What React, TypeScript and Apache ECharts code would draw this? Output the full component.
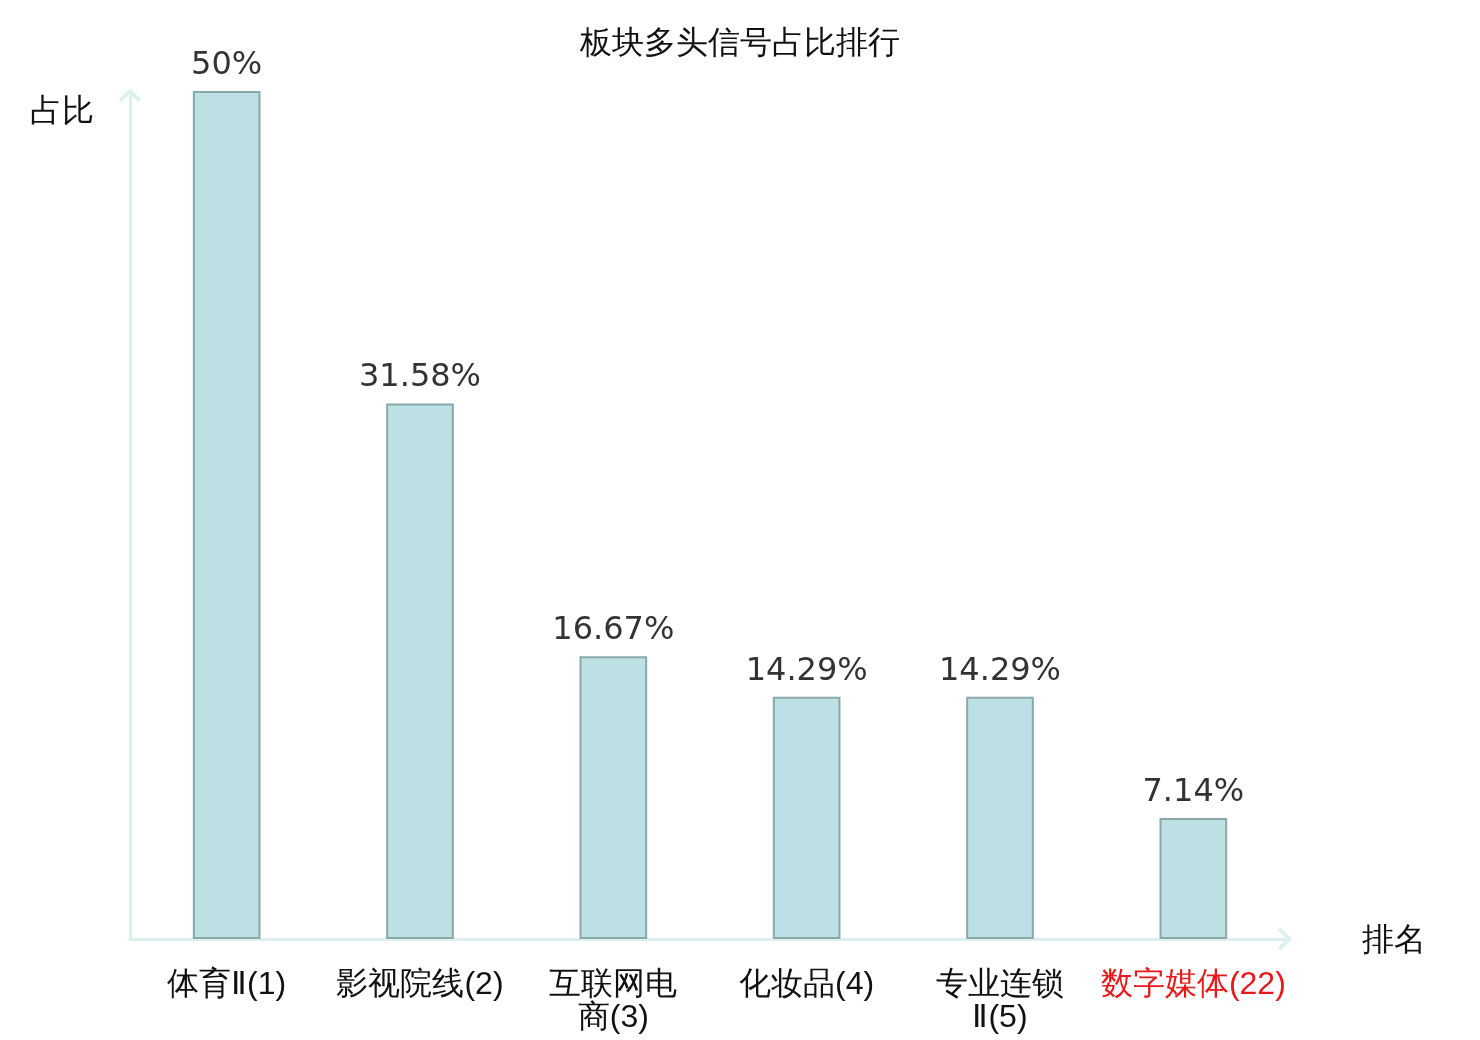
import React, { useEffect, useRef } from "react";
import * as echarts from "echarts";

const title = "板块多头信号占比排行";
const categories = ["体育Ⅱ(1)", "影视院线(2)", "互联网电商(3)", "化妆品(4)", "专业连锁Ⅱ(5)", "数字媒体(22)"];
const values = [50, 31.58, 16.67, 14.29, 14.29, 7.14];
const highlighted = ["数字媒体(22)"];
const yName = "占比";
const xName = "排名";

const chevron = "path://M0,10 L10,0 L20,10 L17.5,12.5 L10,5 L2.5,12.5 Z";

export default function App() {
  const ref = useRef<HTMLDivElement>(null);
  useEffect(() => {
    if (!ref.current) return;
    const chart = echarts.init(ref.current, null, { renderer: "svg" });
    const font = "sans-serif";
    chart.setOption({
      animation: false,
      title: {
        text: title,
        left: "center",
        top: 21,
        textStyle: { fontSize: 32, fontWeight: "normal", color: "#111", fontFamily: font },
      },
      grid: { left: 130, right: 190, top: 91, bottom: 101, containLabel: false },
      xAxis: {
        type: "category",
        data: categories.map((c) =>
          highlighted.includes(c) ? { value: c, textStyle: { color: "#e8191c" } } : c
        ),
        name: xName,
        nameGap: 72,
        nameTextStyle: { fontSize: 32, color: "#111", fontFamily: font },
        axisLine: {
          show: true,
          lineStyle: { color: "#dcf0ee", width: 3 },
          symbol: ["none", chevron],
          symbolSize: [24, 14],
          symbolOffset: [0, -5],
        },
        axisTick: { show: false },
        axisLabel: {
          interval: 0,
          fontSize: 32,
          color: "#111",
          fontFamily: font,
          margin: 27,
          lineHeight: 33,
          formatter: (v: string) => {
            const head = v.split("(")[0];
            if (head.length > 4) return v.slice(0, 4) + "\n" + v.slice(4);
            return v;
          },
        },
      },
      yAxis: {
        type: "value",
        min: 0,
        max: 50,
        name: yName,
        nameGap: 0,
        nameTextStyle: {
          fontSize: 32,
          color: "#111",
          fontFamily: font,
          align: "right",
          verticalAlign: "top",
          padding: [3, 36, 0, 0],
        },
        axisLine: {
          show: true,
          lineStyle: { color: "#dcf0ee", width: 3 },
          symbol: ["none", chevron],
          symbolSize: [24, 14],
          symbolOffset: [0, -4],
        },
        axisTick: { show: false },
        axisLabel: { show: false },
        splitLine: { show: false },
      },
      series: [
        {
          type: "bar",
          data: values,
          barWidth: "35%",
          z: 1,
          itemStyle: { color: "#bce0e3", borderColor: "#8aa8a9", borderWidth: 2 },
          label: {
            show: true,
            position: "top",
            distance: 12,
            fontSize: 32,
            color: "#333",
            fontFamily: "DejaVu Sans",
            formatter: (p: any) => `${p.value}%`,
          },
        },
      ],
    });
    return () => chart.dispose();
  }, []);
  return (
    <div
      ref={ref}
      style={{ position: "fixed", left: 0, top: 0, width: 1480, height: 1040 }}
    />
  );
}
